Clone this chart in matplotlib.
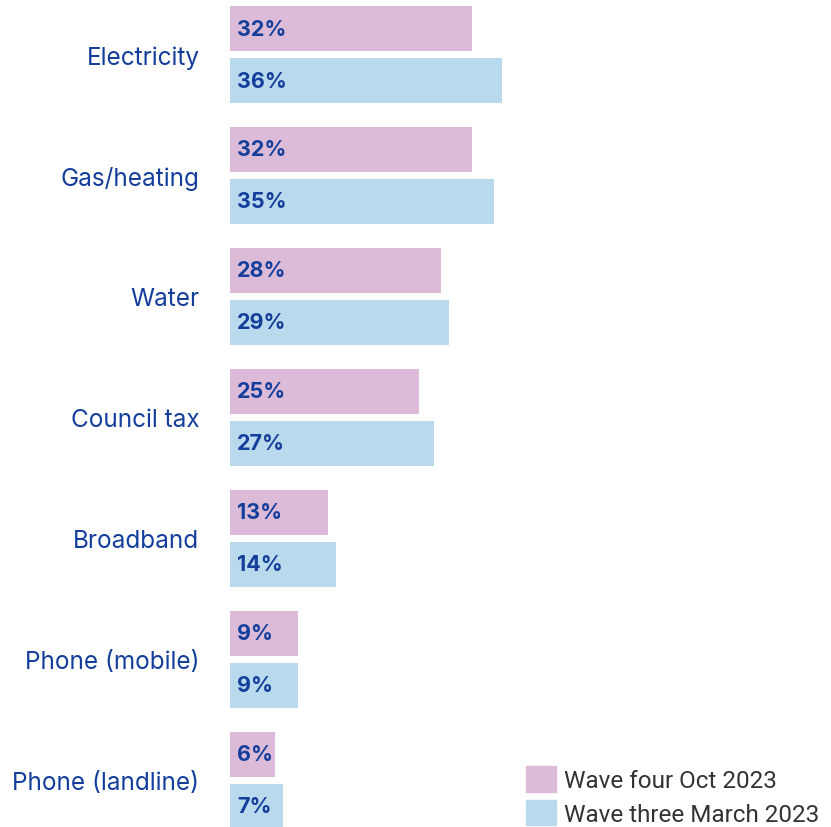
import matplotlib.pyplot as plt
from matplotlib.patches import Patch
import numpy as np

plt.rcParams["font.family"] = ["Inter", "DejaVu Sans"]

categories = ["Electricity", "Gas/heating", "Water", "Council tax",
              "Broadband", "Phone (mobile)", "Phone (landline)"]
wave_four = [32, 32, 28, 25, 13, 9, 6]
wave_three = [36, 35, 29, 27, 14, 9, 7]
series_names = ["Wave four Oct 2023", "Wave three March 2023"]

pink = "#dcbbd9"
blue = "#b9daec"
navy = "#143e9b"

fig = plt.figure(figsize=(8.31, 8.28), dpi=100)
ax = fig.add_axes([230 / 831, 0.0, 592 / 831, 1.0])

y = np.arange(len(categories))
h = 45 / 121
off = 26 / 121
ax.barh(y - off, wave_four, height=h, color=pink, label=series_names[0])
ax.barh(y + off, wave_three, height=h, color=blue, label=series_names[1])

for yi, v in zip(y - off, wave_four):
    ax.text(0.95, yi, f"{v}%", va="center", ha="left", color=navy,
            fontsize=15.5, fontweight="bold")
for yi, v in zip(y + off, wave_three):
    ax.text(0.95, yi, f"{v}%", va="center", ha="left", color=navy,
            fontsize=15.5, fontweight="bold")

ax.set_xlim(0, 592 / 7.55)
ax.set_ylim(6 + 46.5 / 121, -55.5 / 121)
ax.set_yticks(y)
ax.set_yticklabels(categories, fontsize=17.5, color=navy)
ax.tick_params(axis="y", length=0, pad=22)
ax.set_xticks([])
for s in ax.spines.values():
    s.set_visible(False)

fig.legend(handles=[Patch(color=pink), Patch(color=blue)], labels=series_names,
           loc="lower left", bbox_to_anchor=(516 / 831, -0.01), frameon=False,
           labelcolor="#333333", handlelength=1.25, handleheight=1.25,
           handletextpad=0.32, labelspacing=0.3, borderaxespad=0.0,
           prop={"family": ["Roboto", "DejaVu Sans"], "size": 17.5})

fig.savefig("out.png", dpi=100, facecolor="white")
